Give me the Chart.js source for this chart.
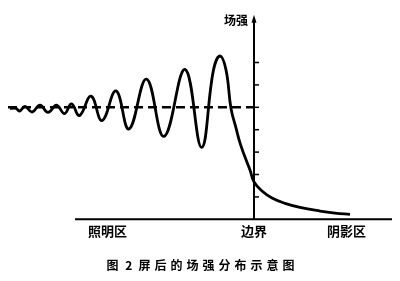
<!DOCTYPE html>
<html>
<head>
<meta charset="utf-8">
<script src="https://cdn.jsdelivr.net/npm/chart.js@4.4.1/dist/chart.umd.min.js"></script>
<style>
	body { margin: 0; background: #fff; }
	canvas { display: block; }
</style>
</head>
<body>
<canvas id="field-chart" width="400" height="281"></canvas>
<script>

// distance from the boundary (arbitrary units), field strength (arbitrary units)
var waveX = [-24.4, -23.8, -23.45, -22.9, -22.2, -21.4, -20.6, -19.75, -18.95, -18.25, -17.45,
	-16.3, -15.2, -13.8, -12.5, -10.75, -9.0, -6.9, -5.25, -4.05, -3.4, -2.8,
	-2.3, -1.8, -1.4, -0.9, -0.4, 0, 0.8, 1.8, 3.1, 4.6, 6.6, 8.1, 9.6];
var waveY = [4.95, 4.95, 4.83, 5.04, 4.79, 5.10, 4.77, 5.10, 4.72, 5.15, 4.63,
	5.50, 4.41, 5.73, 4.03, 6.26, 3.70, 6.69, 3.21, 6.67, 7.29, 6.67,
	4.95, 4.08, 3.41, 2.78, 2.20, 1.67, 1.26, 0.95, 0.71, 0.53, 0.37, 0.28, 0.22];

var meanLevel = 5;
var meanX = [-24.6, 0];

var yTicks = [1, 2, 3, 4, 5, 6, 7];
var xAxisRange = [-17.9, 13.8];
var yAxisTop = 9.0;

var regionLabels = ["照明区", "边界", "阴影区"];
var regionX = [-14.65, 0, 9.25];
var axisTitle = "场强";
var figNumber = "图 2";
var figCaption = "屏后的场强分布示意图";

var FONT = "'Noto Sans CJK SC', 'Noto Sans', sans-serif";

var AxesPlugin = function(){

	var beforeDraw = function(chart){

		var ctx = chart.ctx;
		ctx.save();
		ctx.fillStyle = "#fff";
		ctx.fillRect(0, 0, chart.width, chart.height);
		ctx.restore();
	}

	var afterDatasetsDraw = function(chart){

		var ctx = chart.ctx;
		var xs = chart.scales.x;
		var ys = chart.scales.y;
		var x0 = xs.getPixelForValue(0);
		var y0 = ys.getPixelForValue(0);

		ctx.save();
		ctx.strokeStyle = "#000";
		ctx.fillStyle = "#000";

		// horizontal axis
		ctx.lineWidth = 2;
		ctx.beginPath();
		ctx.moveTo(xs.getPixelForValue(xAxisRange[0]), y0);
		ctx.lineTo(xs.getPixelForValue(xAxisRange[1]), y0);
		ctx.stroke();

		// vertical axis with arrow
		var yTop = ys.getPixelForValue(yAxisTop);
		ctx.beginPath();
		ctx.moveTo(x0, y0);
		ctx.lineTo(x0, yTop + 3);
		ctx.stroke();
		ctx.beginPath();
		ctx.moveTo(x0, yTop - 3);
		ctx.lineTo(x0 - 2.5, yTop + 5);
		ctx.lineTo(x0 + 2.5, yTop + 5);
		ctx.closePath();
		ctx.fill();

		// tick marks to the right of the axis
		ctx.lineWidth = 1.5;
		yTicks.forEach(function(v){
			var py = ys.getPixelForValue(v);
			ctx.beginPath();
			ctx.moveTo(x0, py);
			ctx.lineTo(x0 + 5, py);
			ctx.stroke();
		});

		// texts
		ctx.textBaseline = "middle";
		ctx.font = "bold 12px " + FONT;
		ctx.textAlign = "right";
		ctx.fillText(axisTitle, x0 - 6, yTop + 3);

		ctx.font = "bold 13px " + FONT;
		ctx.textAlign = "center";
		regionLabels.forEach(function(label, i){
			ctx.fillText(label, xs.getPixelForValue(regionX[i]), y0 + 12);
		});

		ctx.font = "bold 12px " + FONT;
		ctx.textAlign = "left";
		ctx.letterSpacing = "2px";
		ctx.fillText(figNumber, 106.5, 265);
		ctx.letterSpacing = "4px";
		ctx.fillText(figCaption, 138.5, 265);
		ctx.restore();
	}

	return {
		id: "axesPlugin",
		beforeDraw: beforeDraw,
		afterDatasetsDraw: afterDatasetsDraw
	}
}();

function getPoints(xList, yList){

	return xList.map(function(x, i){ return { x: x, y: yList[i] }; });
}

var ctx = document.getElementById("field-chart");
var fieldChart = new Chart(ctx, {
	type: "line",
	data: {
		datasets: [
		{
			label: "场强",
			data: getPoints(waveX, waveY),
			borderColor: "#000",
			borderWidth: 2.8,
			tension: 0.42,
			pointRadius: 0,
			fill: false
		},
		{
			label: "平均",
			data: getPoints(meanX, meanX.map(function(){ return meanLevel; })),
			borderColor: "#000",
			borderWidth: 2.4,
			borderDash: [9, 5],
			pointRadius: 0,
			fill: false
		}
		]
	},
	options: {
		responsive: false,
		animation: false,
		layout: { padding: 0 },
		scales: {
			x: { type: "linear", min: -25.4, max: 14.6, display: false },
			y: { type: "linear", min: -2.754, max: 9.79, display: false }
		},
		plugins: {
			legend: { display: false },
			tooltip: { enabled: false }
		}
	},
	plugins: [AxesPlugin]
});

</script>
</body>
</html>
